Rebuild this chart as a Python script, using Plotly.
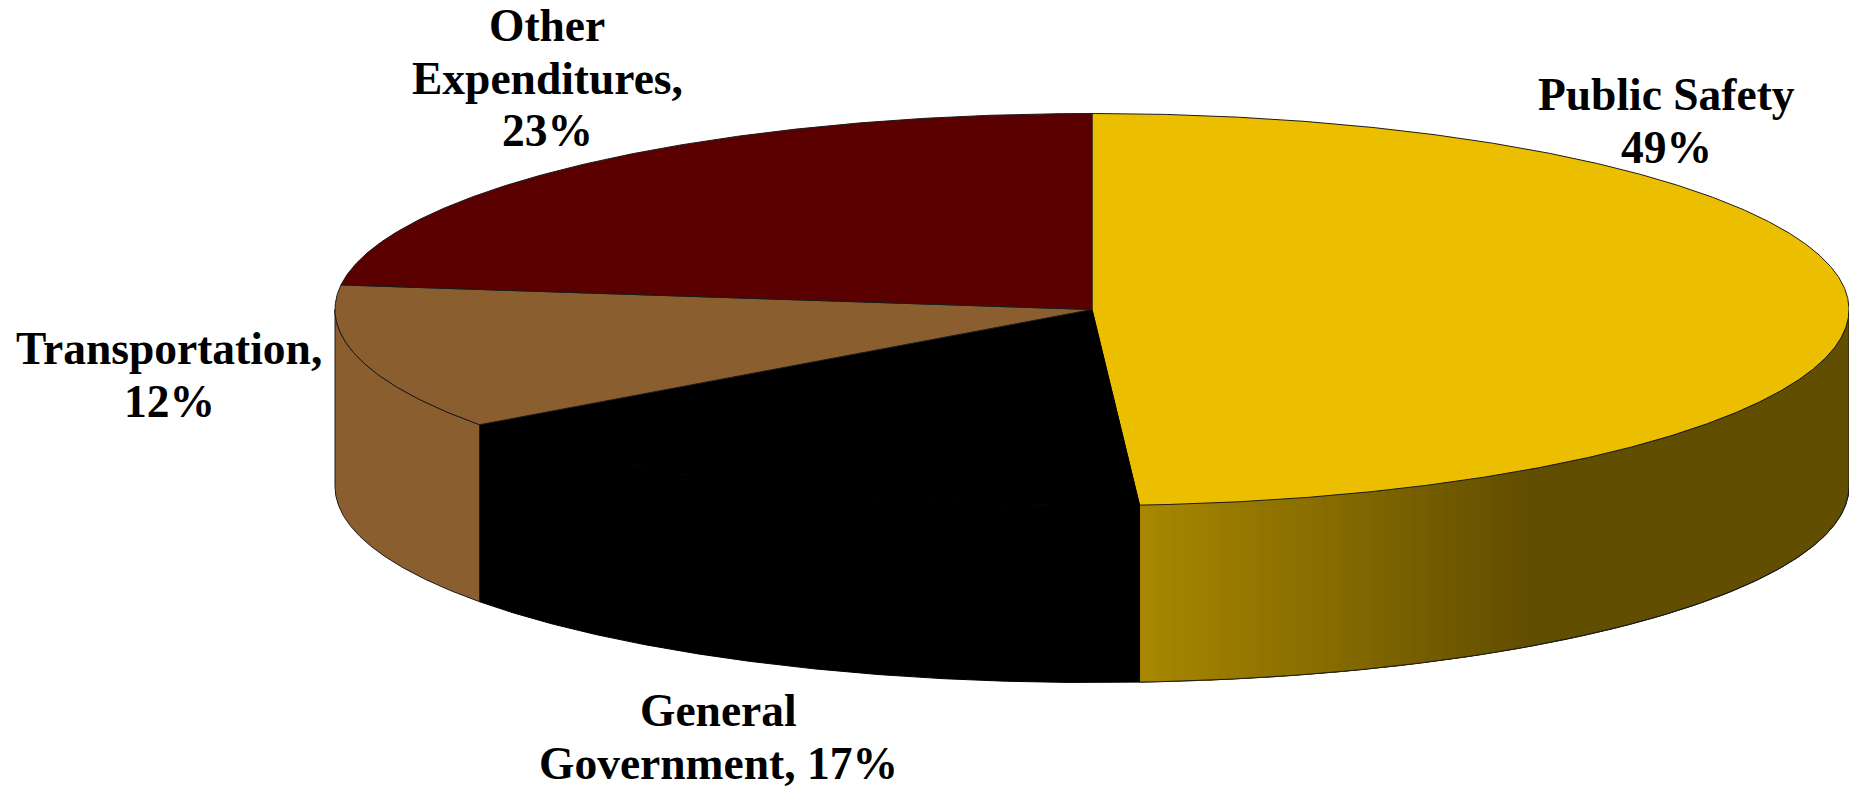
import numpy as np
import plotly.graph_objects as go

# Data
categories = ["Public Safety", "General Government", "Transportation", "Other Expenditures"]
shares = [49.0, 16.0, 12.0, 23.0]  # slice sizes as drawn in the picture
label_lines = [["Public Safety", "49%"], ["General", "Government, 17%"],
               ["Transportation,", "12%"], ["Other", "Expenditures,", "23%"]]
top_colors = ["#ECBE00", "#000000", "#8B5E2F", "#5A0000"]
edge_colors = ["#1a1a1a", "#000000", "#1a1a1a", "#1a1a1a"]

# Layout
W, H = 1849, 788
CX, CY, RX, RY, DEPTH = 1092, 309.5, 757, 196, 177
label_pos = [(1666, 121), (718, 737), (169, 375), (547, 78)]
LINE_GAP = 52.7
EDGE = "#1a1a1a"

def ex(t):
    return CX + RX * np.sin(np.radians(t))

def ey(t):
    return CY - RY * np.cos(np.radians(t))

def arc(a, b):
    n = max(2, int(abs(b - a) * 4) + 1)
    return np.linspace(a, b, n)

def side_poly(a, b):
    t = arc(a, b)
    x = np.concatenate([ex(t), ex(t[::-1])])
    y = np.concatenate([ey(t), ey(t[::-1]) + DEPTH])
    return np.r_[x, x[0]], np.r_[y, y[0]]

def poly(fig, x, y, fill, line=None, lw=0.0):
    fig.add_trace(go.Scatter(
        x=x, y=y, mode="lines", fill="toself", fillcolor=fill,
        line=dict(color=line or fill, width=lw), hoverinfo="skip", showlegend=False))

edges = np.concatenate([[0], np.cumsum(shares)]) / np.sum(shares) * 360
fig = go.Figure()

# Side walls of the front half
a0, a1 = max(edges[0], 90), edges[1]
dark, light = np.array([98, 78, 0]), np.array([170, 137, 0])
x_l, x_r = ex(a1), 1530.0
poly(fig, *side_poly(a0, a1), f"rgb({dark[0]},{dark[1]},{dark[2]})", EDGE, 1)
for bx in np.arange(x_r, x_l, -8.0):
    t = 180 - np.degrees(np.arcsin((bx - CX) / RX))
    f = (bx - x_l) / (x_r - x_l)
    c = light + (dark - light) * f
    poly(fig, *side_poly(t, a1), f"rgb({int(c[0])},{int(c[1])},{int(c[2])})")
# Re-stroke the gold wall outline over the bands
tb = arc(a0, a1)
fig.add_trace(go.Scatter(x=ex(tb), y=ey(tb) + DEPTH, mode="lines",
                         line=dict(color=EDGE, width=1), hoverinfo="skip", showlegend=False))

poly(fig, *side_poly(edges[1], edges[2]), top_colors[1], "#000000", 1)
poly(fig, *side_poly(edges[2], 270), top_colors[2], EDGE, 1)

# Top face slices
for i in range(len(shares)):
    t = arc(edges[i], edges[i + 1])
    x = np.r_[CX, ex(t), CX]
    y = np.r_[CY, ey(t), CY]
    poly(fig, x, y, top_colors[i], edge_colors[i], 1)

for lines, (lx, ly) in zip(label_lines, label_pos):
    for k, line in enumerate(lines):
        fig.add_annotation(x=lx, y=ly + (k - (len(lines) - 1) / 2) * LINE_GAP,
                           text=f"<b>{line}</b>", showarrow=False,
                           xanchor="center", yanchor="middle", align="center",
                           font=dict(family="Liberation Serif", size=45.5, color="#000000"))

fig.update_layout(
    width=W, height=H, margin=dict(l=0, r=0, t=0, b=0),
    paper_bgcolor="white", plot_bgcolor="white", showlegend=False,
    xaxis=dict(range=[0, W], visible=False, fixedrange=True),
    yaxis=dict(range=[H, 0], visible=False, fixedrange=True),
)
fig.write_html("out.html", config={"displayModeBar": False},
               post_script="document.body.style.margin='0';document.body.style.overflow='hidden';")
